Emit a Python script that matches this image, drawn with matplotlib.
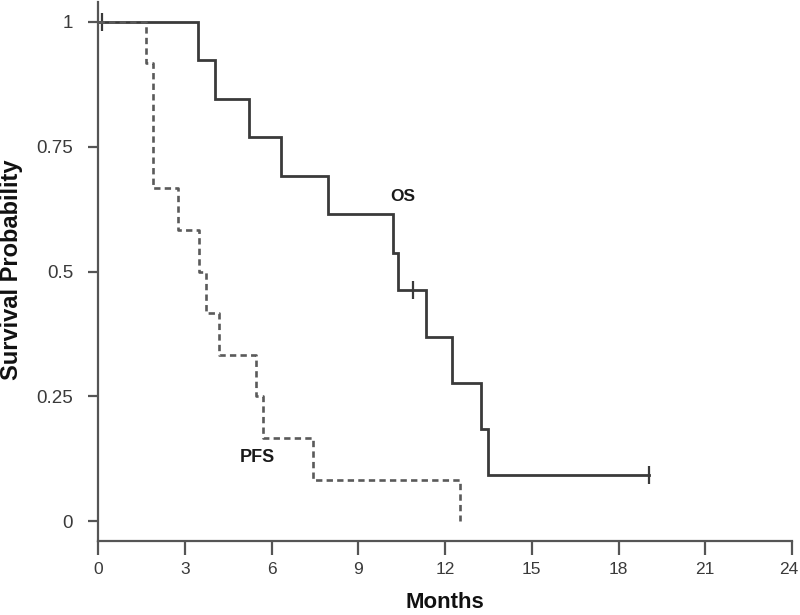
import matplotlib
matplotlib.use("Agg")
import matplotlib.pyplot as plt
import matplotlib.transforms as mtransforms

plt.rcParams['font.family'] = ['Liberation Sans', 'DejaVu Sans']

# Overall survival (OS) step curve
os_times = [0, 3.46, 4.05, 5.22, 6.33, 7.95, 10.2, 10.37, 11.34, 12.24, 13.24, 13.49, 19.05]
os_surv = [1.0, 0.923, 0.846, 0.769, 0.692, 0.615, 0.538, 0.462, 0.369, 0.277, 0.185, 0.092, 0.092]
os_censor_t = [0.14, 10.9, 19.05]
os_censor_s = [1.0, 0.462, 0.092]

# Progression-free survival (PFS) step curve
pfs_times = [0, 1.66, 1.9, 2.77, 3.49, 3.73, 4.18, 5.46, 5.7, 7.43, 12.52]
pfs_surv = [1.0, 0.917, 0.667, 0.583, 0.5, 0.417, 0.333, 0.25, 0.167, 0.083, 0.0]

x_ticks = [0, 3, 6, 9, 12, 15, 18, 21, 24]
y_ticks = [0, 0.25, 0.5, 0.75, 1]
y_tick_labels = ['0', '0.25', '0.5', '0.75', '1']

fig = plt.figure(figsize=(8, 6.15), dpi=100)
ax = fig.add_axes([98/800, (615-541)/615, 694/800, 539/615])

os_col = '#3a3a3a'
pfs_col = '#5a5a5a'
ax.step(os_times, os_surv, where='post', color=os_col, lw=2.0, solid_joinstyle='miter')
ax.plot(os_censor_t, os_censor_s, ls='none', marker='|', ms=13, mew=1.6, color=os_col)
ax.step(pfs_times, pfs_surv, where='post', color=pfs_col, lw=1.9, dashes=(2.4, 1.6))

ax.text(10.55, 0.651, 'OS', fontsize=12.5, fontweight='bold', ha='center', va='center', color='#1a1a1a')
ax.text(5.5, 0.128, 'PFS', fontsize=13, fontweight='bold', ha='center', va='center', color='#1a1a1a')

ax.set_xlim(0, 24)
ax.set_ylim(-0.04, 1.04)
ax.set_xticks(x_ticks)
ax.set_xticklabels([str(v) for v in x_ticks])
ax.set_yticks(y_ticks)
ax.set_yticklabels(y_tick_labels)

for s in ['top', 'right']:
    ax.spines[s].set_visible(False)
for s in ['left', 'bottom']:
    ax.spines[s].set_color('#555555')
    ax.spines[s].set_linewidth(1.6)

ax.tick_params(axis='x', length=10, width=1.6, color='#555555', pad=5, labelsize=12.5, labelcolor='#3a3a3a')
ax.tick_params(axis='y', length=7, width=1.6, color='#555555', pad=11, labelsize=13.5, labelcolor='#3a3a3a')

# nudge the last x tick label so it stays inside the canvas
last = ax.get_xticklabels()[-1]
last.set_transform(last.get_transform() + mtransforms.ScaledTranslation(-3/100, 0, fig.dpi_scale_trans))

ax.set_xlabel('Months', fontsize=16, fontweight='bold', labelpad=11, color='#111111')
ax.set_ylabel('Survival Probability', fontsize=17, fontweight='bold', color='#111111')
ax.yaxis.set_label_coords((23 - 98) / 694, (541 - 270) / 539)

fig.savefig('out.png', dpi=100)
